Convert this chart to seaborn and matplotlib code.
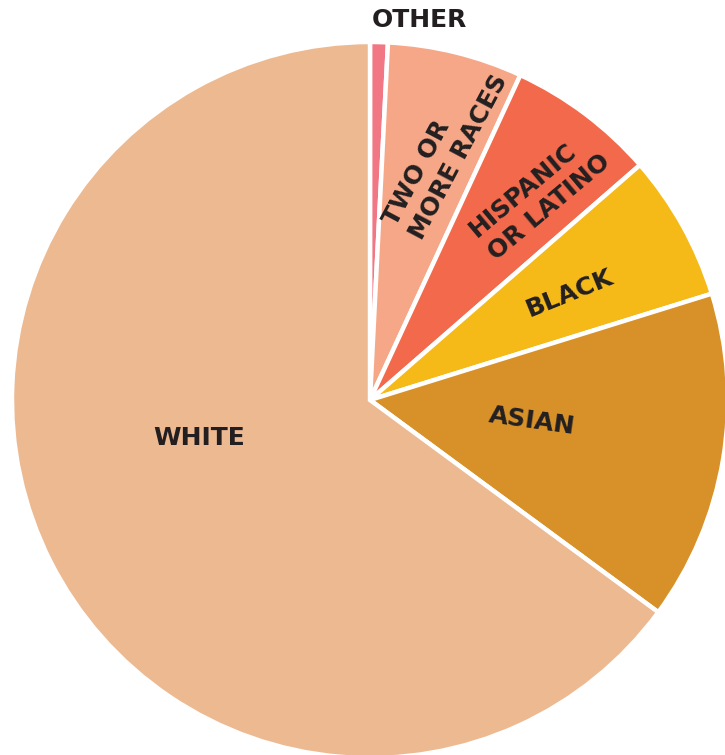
import matplotlib
matplotlib.use("Agg")
import matplotlib.pyplot as plt
import seaborn as sns
import numpy as np

# ---- data ----
categories = ["OTHER", "TWO OR\nMORE RACES", "HISPANIC\nOR LATINO", "BLACK", "ASIAN", "WHITE"]
shares = [0.8, 6.1, 6.7, 6.6, 14.9, 64.9]
colors = ["#F07783", "#F6A788", "#F26A4B", "#F5BA18", "#D79128", "#EDB991"]

# ---- label layout (pixel positions, rotations) ----
label_pos = [(419, 20), (446, 150), (540, 196), (570, 293), (532, 421), (199, 438)]
label_rot = [0, 62, 40, 22, -8, 0]
label_size = [18, 18, 18, 18, 18, 18]

W, H = 725, 755
sns.set_theme(style="white")
plt.rcParams['font.family'] = ['DejaVu Sans']

fig = plt.figure(figsize=(W / 100, H / 100), dpi=100)
ax = fig.add_axes([0, 0, 1, 1])

cx, cy, R = 370, H - 400, 358
ax.pie(shares, colors=colors, startangle=90, counterclock=False,
       center=(cx, cy), radius=R, frame=True,
       wedgeprops=dict(edgecolor="white", linewidth=3.2))
ax.set_xlim(0, W)
ax.set_ylim(0, H)
ax.set_aspect('equal')
ax.axis('off')

for lab, (px, py), rot, fs in zip(categories, label_pos, label_rot, label_size):
    ax.text(px, H - py, lab, rotation=rot, rotation_mode="anchor",
            ha="center", va="center", multialignment="left",
            fontsize=fs, fontweight="bold",
            color="#231F20", linespacing=1.3)

fig.savefig("out.png", dpi=100, facecolor="white")
